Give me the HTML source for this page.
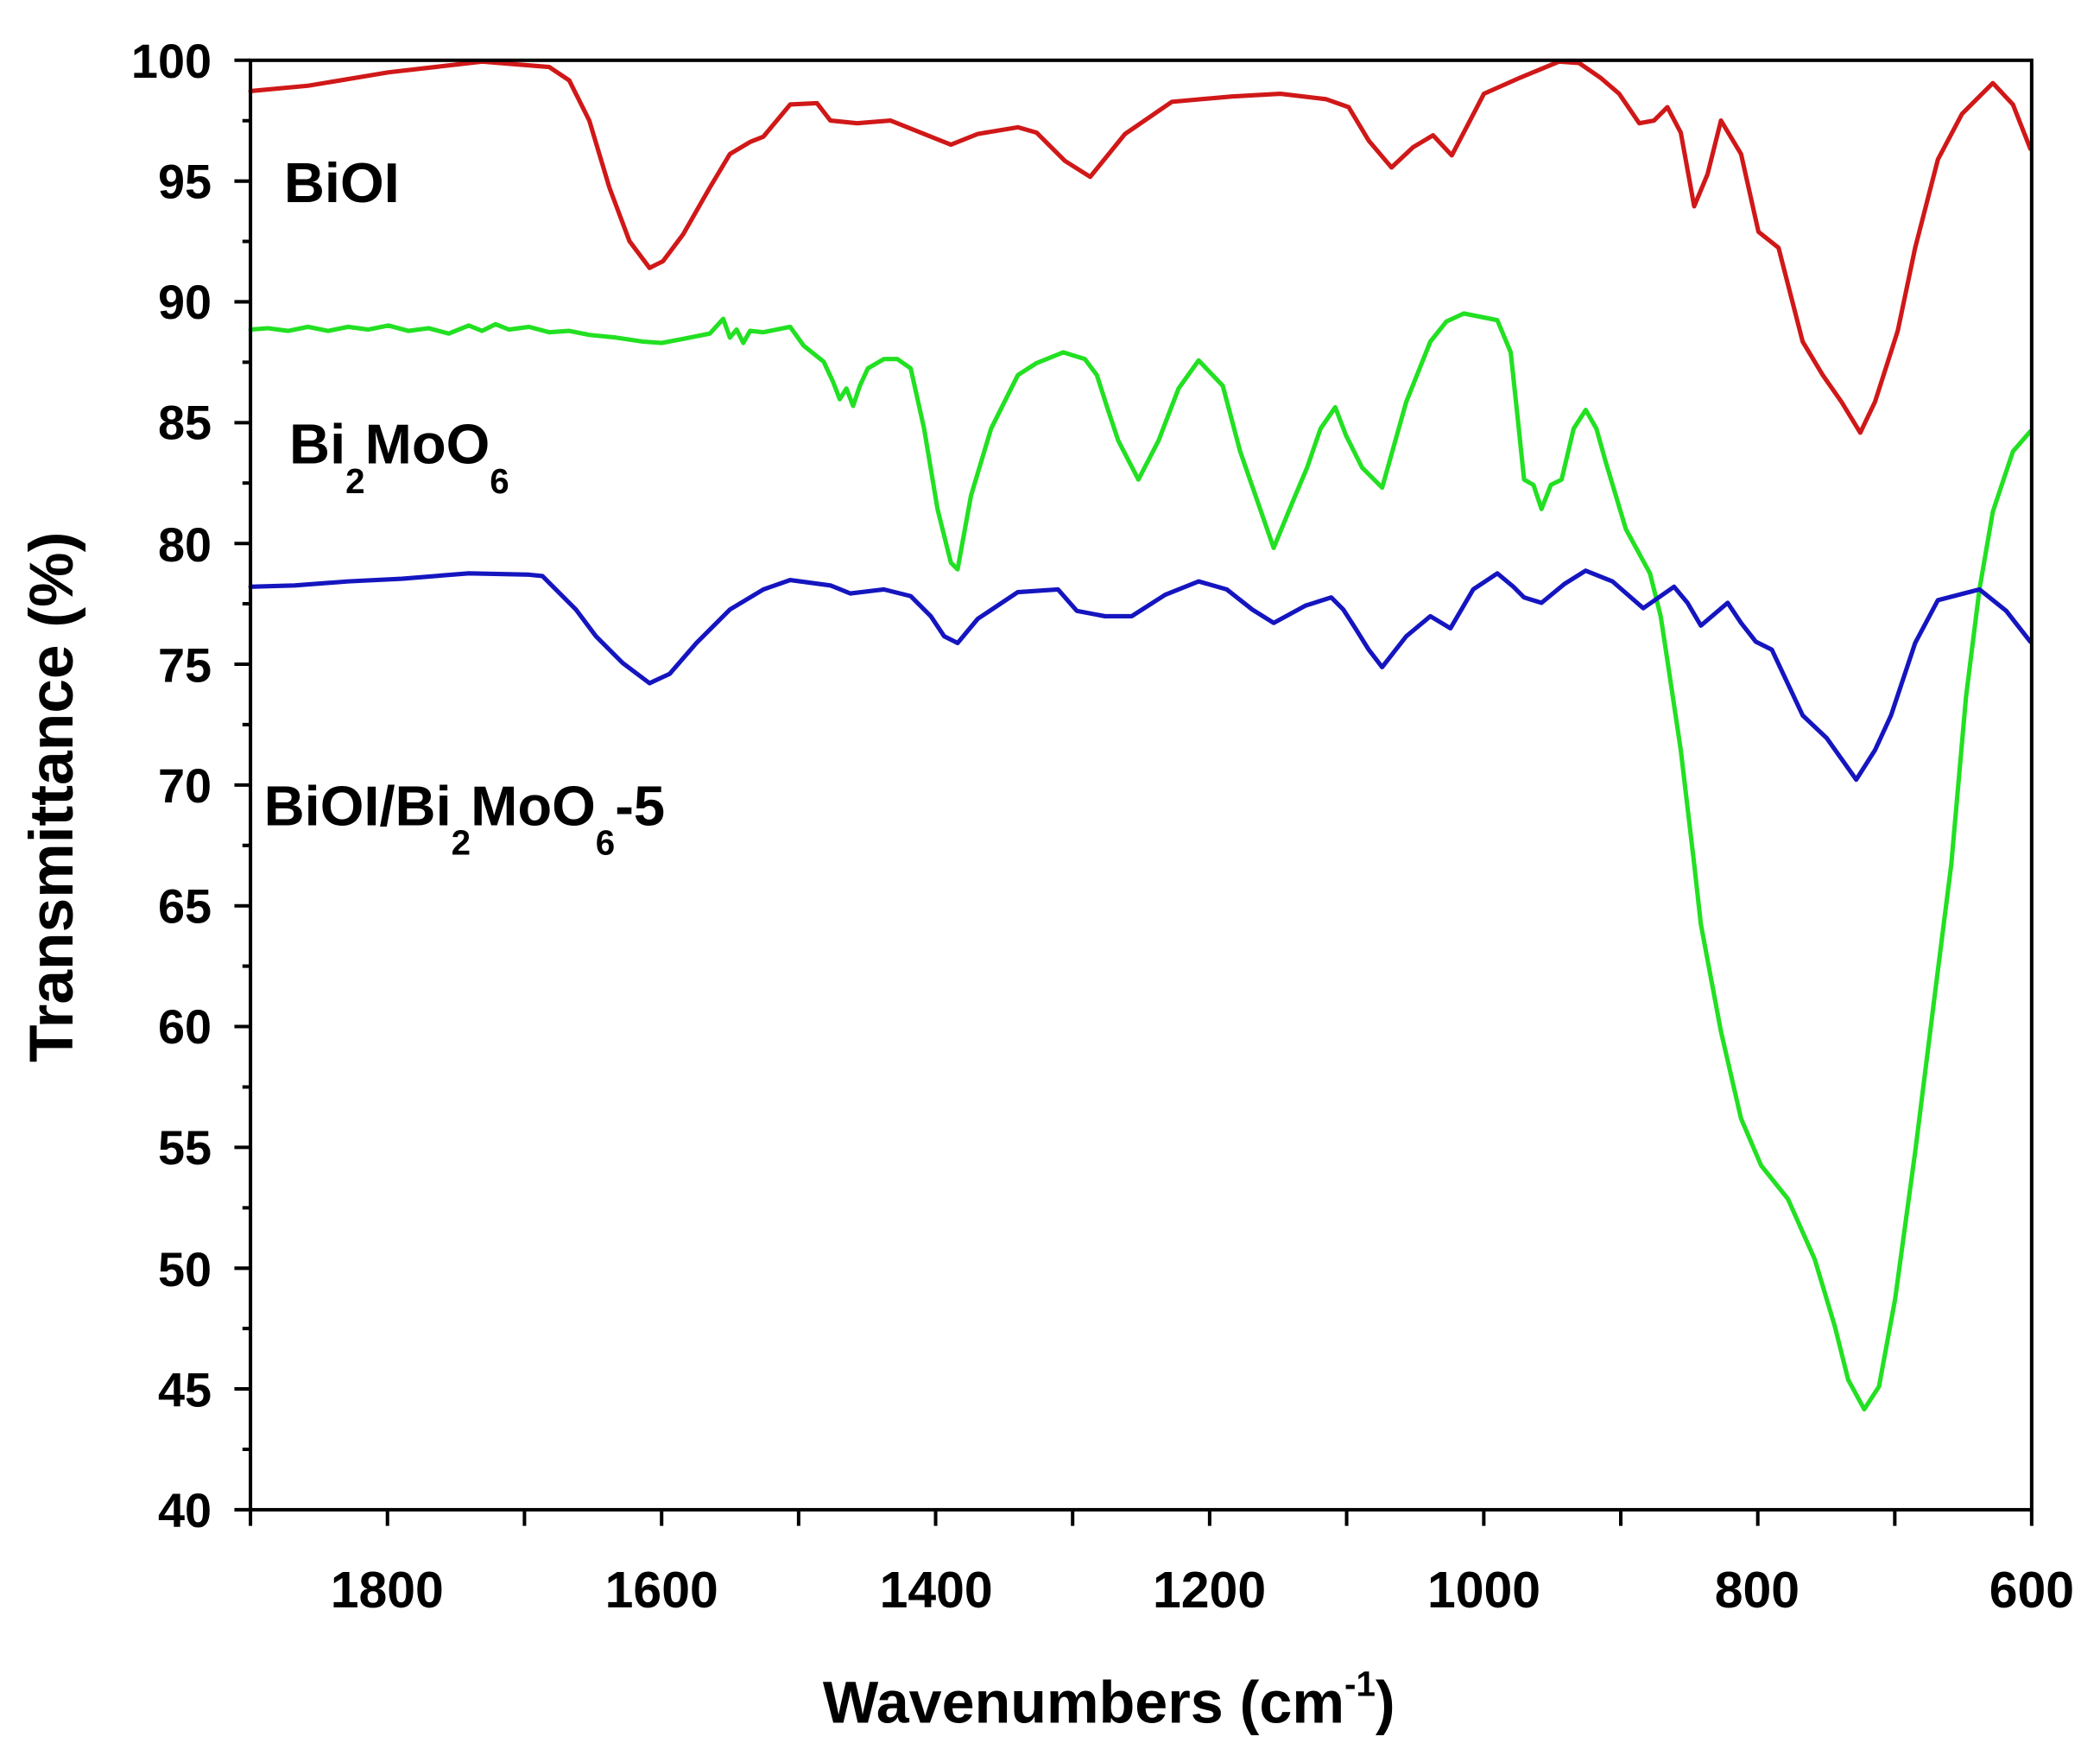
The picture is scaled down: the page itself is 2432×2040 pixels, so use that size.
<!DOCTYPE html>
<html><head><meta charset="utf-8"><style>
html,body{margin:0;padding:0;background:#fff;}
svg{display:block;}
text{font-family:"Liberation Sans",Arial,sans-serif;font-weight:bold;fill:#000;}
</style></head><body>
<svg width="2432" height="2040" viewBox="0 0 1568 1315.3" xmlns="http://www.w3.org/2000/svg">
<rect width="1568" height="1316" fill="#fff"/>
<g fill="none" stroke-linejoin="round" stroke-linecap="round" stroke-width="3.3">
<polyline stroke="#d01818" points="187,68 230,64 290,54 360,46 410,50 425,60 440,90 455,140 470,180 485,200 495,195 510,175 530,140 545,115 560,106 570,102 580,90 590,78 610,77 620,90 640,92 665,90 690,100 710,108 730,100 760,95 774,99 795,120 814,132 840,100 875,76 920,72 956,70 990,74 1007,80 1022,105 1039,125 1055,110 1070,101 1084,116 1095,95 1108,70 1135,58 1164,46 1179,47 1195,58 1209,70 1224,92 1235,90 1245,80 1255,99 1265,154 1275,130 1285,90 1300,115 1313,173 1328,185 1346,255 1361,280 1375,300 1389,323 1400,300 1417,247 1430,185 1447,119 1465,85 1488,62 1503,78 1516,111"/>
<polyline stroke="#22e022" points="187,246 200,245 215,247 230,244 245,247 260,244 275,246 290,243 305,247 320,245 335,249 350,243 360,247 370,242 380,246 395,244 410,248 425,247 440,250 460,252 480,255 494,256 510,253 530,249 540,238 545,252 550,246 555,256 560,247 570,248 580,246 590,244 600,258 615,270 622,285 627,298 632,290 637,303 642,288 648,275 660,268 670,268 680,275 690,320 700,380 710,420 715,425 725,370 740,320 760,280 774,271 794,263 810,268 819,280 827,305 835,329 850,358 865,329 880,290 895,269 913,288 926,337 951,409 965,375 976,349 986,320 997,304 1005,325 1017,349 1032,364 1050,300 1068,255 1080,240 1093,234 1118,239 1128,263 1133,310 1138,358 1145,362 1151,380 1158,362 1166,358 1175,320 1184,306 1192,320 1199,345 1214,395 1232,428 1240,460 1245,493 1255,560 1265,645 1270,690 1285,770 1300,835 1315,870 1335,895 1355,940 1370,990 1380,1030 1392,1052 1403,1035 1415,970 1430,860 1445,740 1457,645 1468,520 1478,440 1488,382 1503,337 1516,322"/>
<polyline stroke="#1515c0" points="187,438 220,437 260,434 300,432 350,428 395,429 405,430 415,440 430,455 445,475 465,495 485,510 500,503 520,480 545,455 570,440 590,433 620,437 635,443 660,440 680,445 695,460 705,475 715,480 730,462 760,442 790,440 804,456 825,460 845,460 870,444 895,434 916,440 935,455 951,465 975,452 994,446 1003,455 1012,469 1022,485 1032,498 1050,475 1068,460 1083,469 1100,440 1118,428 1130,438 1138,446 1151,450 1168,436 1184,426 1204,434 1227,454 1250,438 1260,450 1270,467 1290,450 1300,465 1311,479 1323,485 1346,534 1364,551 1386,582 1400,560 1412,534 1430,480 1447,448 1478,440 1498,456 1516,479"/>
</g>
<g stroke="#000" stroke-width="2.6" fill="none">
<rect x="187" y="45" width="1330" height="1082"/>
<path d="M175,45H187M175,135.2H187M175,225.3H187M175,315.5H187M175,405.7H187M175,495.8H187M175,586H187M175,676.2H187M175,766.3H187M175,856.5H187M175,946.7H187M175,1036.8H187M175,1127H187"/>
<path d="M181,90.1H187M181,180.2H187M181,270.4H187M181,360.6H187M181,450.7H187M181,540.9H187M181,631.1H187M181,721.2H187M181,811.4H187M181,901.6H187M181,991.7H187M181,1081.9H187"/>
<path d="M187,1127V1139M289.3,1127V1139M391.6,1127V1139M494,1127V1139M596.3,1127V1139M698.6,1127V1139M800.9,1127V1139M903.2,1127V1139M1005.5,1127V1139M1107.9,1127V1139M1210.2,1127V1139M1312.5,1127V1139M1414.8,1127V1139M1517,1127V1139"/>
</g>
<g font-size="36" text-anchor="end">
<text x="158" y="58">100</text><text x="158" y="148">95</text><text x="158" y="238">90</text><text x="158" y="328">85</text><text x="158" y="419">80</text><text x="158" y="509">75</text><text x="158" y="599">70</text><text x="158" y="689">65</text><text x="158" y="779">60</text><text x="158" y="869">55</text><text x="158" y="960">50</text><text x="158" y="1050">45</text><text x="158" y="1140">40</text>
</g>
<g font-size="38" text-anchor="middle">
<text x="289" y="1200">1800</text><text x="494" y="1200">1600</text><text x="699" y="1200">1400</text><text x="903" y="1200">1200</text><text x="1108" y="1200">1000</text><text x="1312" y="1200">800</text><text x="1517" y="1200">600</text>
</g>
<text x="828" y="1286" font-size="44" text-anchor="middle">Wavenumbers (cm<tspan font-size="26" dy="-20">-1</tspan><tspan dy="20">)</tspan></text>
<text transform="translate(54,595) rotate(-90)" font-size="46" text-anchor="middle">Transmittance (%)</text>
<text x="212" y="151" font-size="42">BiOI</text>
<text x="216" y="346" font-size="42">Bi<tspan font-size="26" dy="22">2</tspan><tspan dy="-22">MoO</tspan><tspan font-size="26" dy="22">6</tspan></text>
<text x="197" y="616" font-size="42">BiOI/Bi<tspan font-size="26" dy="22">2</tspan><tspan dy="-22">MoO</tspan><tspan font-size="26" dy="22">6</tspan><tspan dy="-22">-5</tspan></text>
</svg>
</body></html>
